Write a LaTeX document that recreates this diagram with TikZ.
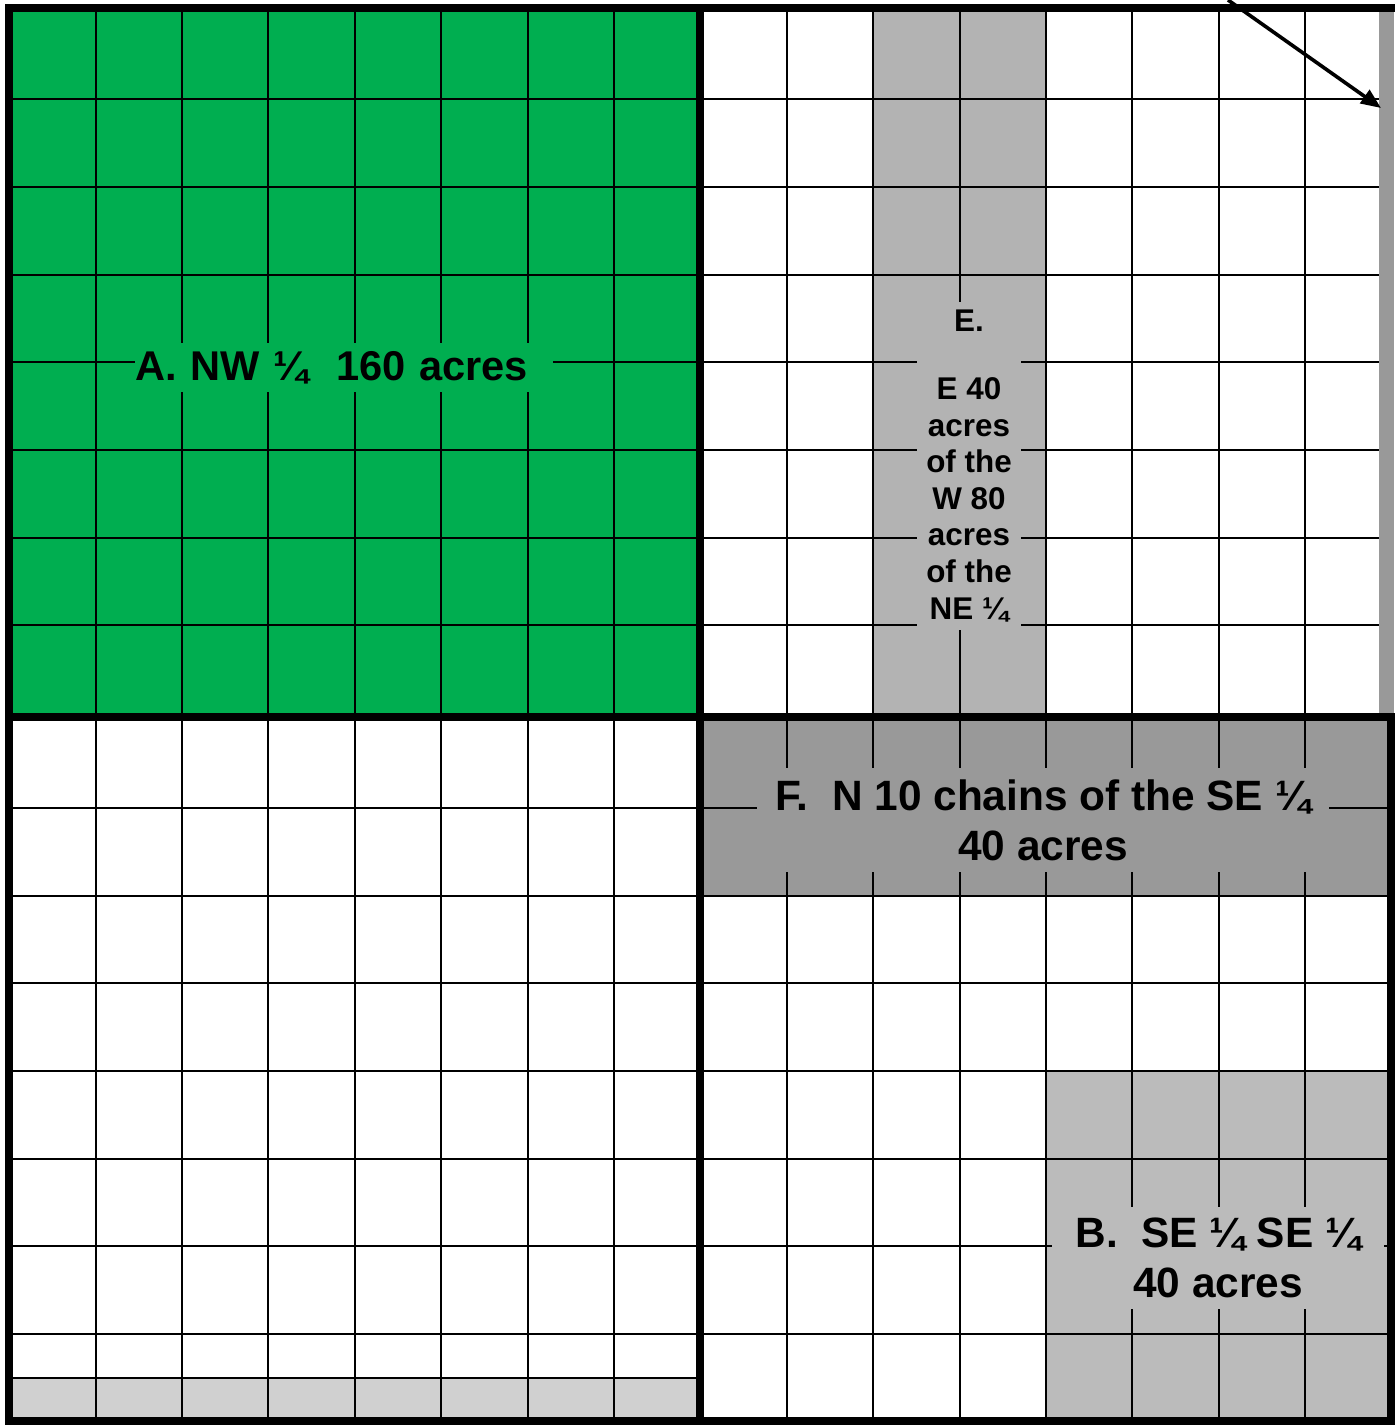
\documentclass[tikz,border=0pt]{standalone}
\usepackage{fontspec}
\setmainfont{Liberation Sans}
\usetikzlibrary{arrows.meta}

\definecolor{tractgreen}{HTML}{00AE50}
\definecolor{tractgray}{HTML}{B3B3B3}
\definecolor{chaingray}{HTML}{999999}
\definecolor{cornergray}{HTML}{BBBBBB}
\definecolor{stripgray}{HTML}{D0D0D0}

\tikzset{
  gridline/.style={line width=1pt},
  boundary/.style={line width=4pt},
  tractlabel/.style={inner sep=0pt, align=center, font=\fontsize{21.2}{25}\selectfont\bfseries},
}

\begin{document}
\begin{tikzpicture}[x=0.5pt, y=-0.5pt, >={Triangle[length=10pt,width=8pt]}]
    \useasboundingbox (0,0) rectangle (1400,1425);

    % tracts
    \fill[tractgreen] (9,8) rectangle (700,717);
    \fill[tractgray] (873,8) rectangle (1046,717);
    \fill[chaingray] (700,717) rectangle (1391,896);
    \fill[cornergray] (1046,1071) rectangle (1391,1421);
    \fill[stripgray] (9,1378) rectangle (700,1421);

    % forty-acre grid
    \foreach \x in {96,182,268,355,441,528,614,787,873,960,1046,1132,1219,1305}
        \draw[gridline] (\x,8) -- (\x,1421);
    \foreach \y in {99,187,275,362,450,538,625}
        \draw[gridline] (9,\y) -- (1379,\y);
    \foreach \y in {808,896,983,1071,1159,1246,1334}
        \draw[gridline] (9,\y) -- (1391,\y);
    \draw[gridline] (9,1378) -- (700,1378);

    % labels
    \node[tractlabel, fill=tractgreen, text width=209pt, minimum height=24.5pt, align=left,
        font=\fontsize{20.8}{25}\selectfont\bfseries]
        (nw) at (344,367.5) {A. NW ¼\ \ 160 acres};
    \node[tractlabel, fill=tractgray, minimum width=52pt, minimum height=164pt,
        font=\fontsize{15.7}{18.3}\selectfont\bfseries]
        (east) at (969,466) {E.\\[15.6pt]E 40\\acres\\of the\\W 80\\acres\\of the\\NE ¼};
    \node[tractlabel, fill=chaingray, minimum width=286pt, minimum height=52pt]
        (chains) at (1043,820) {F.\ \ N 10 chains of the SE ¼\\40 acres};
    \node[tractlabel, fill=cornergray, minimum width=166pt, minimum height=51pt]
        (sese) at (1218,1258) {B.\ \ SE ¼ SE ¼\\40 acres};

    % section and quarter lines
    \draw[boundary] (5,8) -- (1395,8);
    \draw[boundary] (9,4) -- (9,1425);
    \draw[boundary] (5,1421) -- (1395,1421);
    \draw[boundary] (1391,717) -- (1391,1425);
    \draw[boundary] (700,8) -- (700,1421);
    \draw[boundary] (9,717) -- (1395,717);
    \fill[chaingray] (1379,12) rectangle (1394,713);

    \coordinate (tail) at (1228,0);
    \coordinate (tip) at (1381,108);
    \draw[->, line width=1.8pt] (tail) -- (tip);
\end{tikzpicture}
\end{document}
